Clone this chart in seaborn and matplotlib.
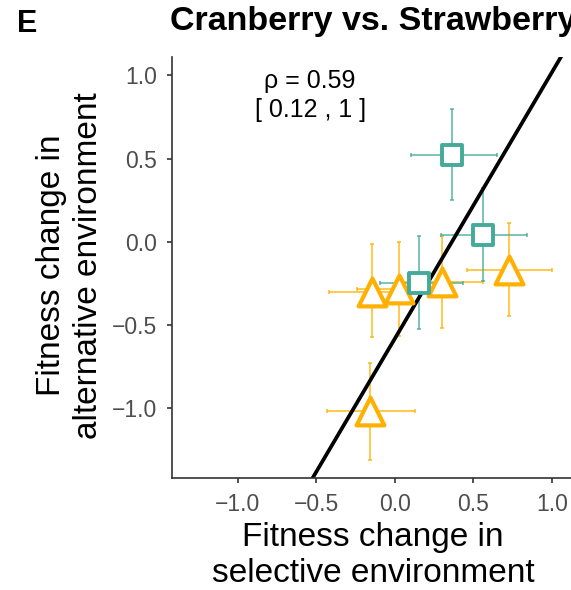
import numpy as np
import pandas as pd
import matplotlib
matplotlib.use("Agg")
import matplotlib.pyplot as plt
import seaborn as sns

# Fitness changes (selective vs. alternative environment) with error ranges
sq_x = [0.365, 0.561, 0.155]
sq_y = [0.522, 0.042, -0.249]
sq_x_lo = [0.102, 0.291, -0.096]
sq_x_hi = [0.648, 0.839, 0.435]
sq_y_lo = [0.253, -0.235, -0.526]
sq_y_hi = [0.800, 0.320, 0.036]

tri_x = [-0.149, 0.028, 0.297, 0.726, -0.160]
tri_y = [-0.300, -0.285, -0.243, -0.168, -1.020]
tri_x_lo = [-0.420, -0.240, 0.030, 0.457, -0.430]
tri_x_hi = [0.110, 0.300, 0.562, 1.002, 0.130]
tri_y_lo = [-0.570, -0.566, -0.520, -0.444, -1.310]
tri_y_hi = [-0.014, -0.004, 0.036, 0.113, -0.730]

# Fitted line
fit_slope = 1.60
fit_intercept = -0.581

rho_text = "\u03c1 = 0.59"
ci_text = "[ 0.12 , 1 ]"

x_ticks = [-1.0, -0.5, 0.0, 0.5, 1.0]
y_ticks = [-1.0, -0.5, 0.0, 0.5, 1.0]

teal = "#44AA99"
orange = "#FFB000"

sns.set_theme(style="ticks")
plt.rcParams["font.family"] = ["Liberation Sans", "DejaVu Sans"]

fig = plt.figure(figsize=(5.71, 5.90), dpi=100)
ax = fig.add_axes([0.3012, 0.1898, 0.704, 0.7136])

xlim = (-1.42, 1.14)
ylim = (-1.42, 1.11)

# Regression line across the full panel
lx = np.array(xlim)
ax.plot(lx, fit_intercept + fit_slope * lx, color="black", lw=2.7, zorder=2,
        solid_capstyle="butt")

def draw_group(xs, ys, xlo, xhi, ylo, yhi, color, marker, size, lw):
    xs = np.array(xs); ys = np.array(ys)
    xerr = np.vstack([xs - np.array(xlo), np.array(xhi) - xs])
    yerr = np.vstack([ys - np.array(ylo), np.array(yhi) - ys])
    ax.errorbar(xs, ys, xerr=xerr, yerr=yerr, fmt="none", ecolor=color,
                elinewidth=1.3, capsize=1.5, capthick=1.3, alpha=0.75, zorder=1)
    df = pd.DataFrame({"x": xs, "y": ys})
    sns.scatterplot(data=df, x="x", y="y", ax=ax, marker=marker, s=size,
                    facecolor="white", edgecolor=color, linewidth=lw,
                    zorder=3, legend=False)

draw_group(tri_x, tri_y, tri_x_lo, tri_x_hi, tri_y_lo, tri_y_hi,
           orange, "^", 400, 3.0)
draw_group(sq_x, sq_y, sq_x_lo, sq_x_hi, sq_y_lo, sq_y_hi,
           teal, "s", 195, 2.8)

ax.text(-0.54, 0.968, rho_text, ha="center", va="center", fontsize=18, color="black")
ax.text(-0.54, 0.792, ci_text, ha="center", va="center", fontsize=18, color="black")

ax.set_xlim(*xlim)
ax.set_ylim(*ylim)
ax.set_xticks(x_ticks)
ax.set_yticks(y_ticks)
ax.set_xticklabels([f"{v:.1f}".replace("-", "\u2212") for v in x_ticks])
ax.set_yticklabels([f"{v:.1f}".replace("-", "\u2212") for v in y_ticks])
ax.tick_params(axis="both", labelsize=16.5, labelcolor="#4D4D4D", colors="#333333",
               length=3.6, width=1.2, pad=7)
for s in ["top", "right"]:
    ax.spines[s].set_visible(False)
for s in ["left", "bottom"]:
    ax.spines[s].set_color("#333333")
    ax.spines[s].set_linewidth(1.2)

ax.set_xlabel("Fitness change in\nselective environment", fontsize=24,
              color="black", linespacing=1.22)
ax.xaxis.set_label_coords(0.5, -0.104)
ax.set_ylabel("Fitness change in\nalternative environment", fontsize=24,
              color="black", linespacing=1.22)
ax.yaxis.set_label_coords(-0.17, 0.505)
ax.set_title("Cranberry vs. Strawberry", fontsize=24.5, fontweight="bold",
             color="black", y=1.064, pad=0)

fig.text(17 / 571, 1 - 32 / 590, "E", fontsize=22, fontweight="bold",
         ha="left", va="baseline", color="black")

fig.savefig("out.png", dpi=100)
